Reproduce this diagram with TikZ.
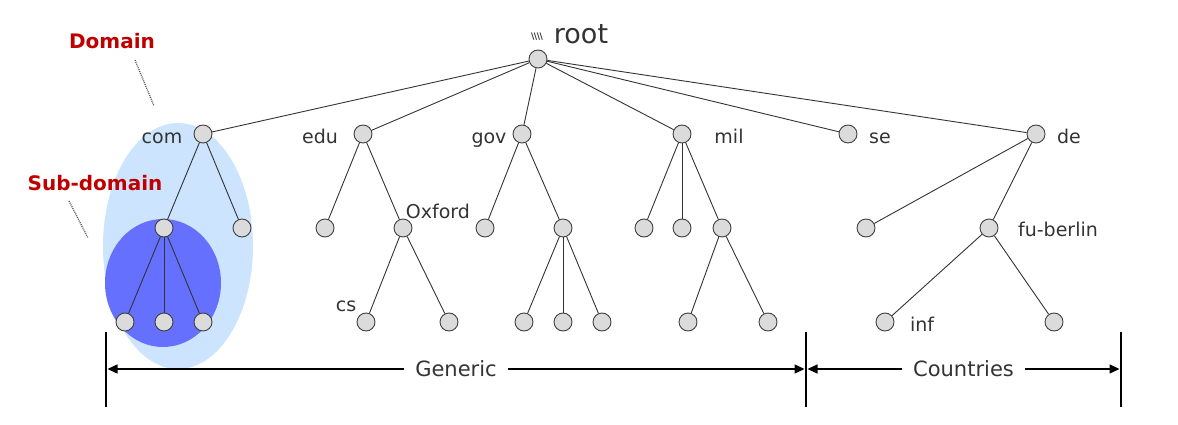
\documentclass[tikz,border=0pt]{standalone}
\usepackage{fontspec}
\setmainfont{DejaVu Sans}
\usetikzlibrary{arrows.meta}
\definecolor{lblue}{HTML}{CCE4FD}
\definecolor{dblue}{HTML}{6670FF}
\definecolor{dred}{HTML}{C00000}
\definecolor{txt}{HTML}{333333}
\begin{document}
\begin{tikzpicture}[x=1pt,y=-1pt,
  dn/.style={circle,draw=black!75,fill=black!14,minimum size=18pt,inner sep=0pt,line width=0.9pt},
  lbl/.style={font=\fontsize{19}{22}\selectfont,text=txt,inner sep=0pt,anchor=base},
  red/.style={font=\fontsize{20}{23}\selectfont\bfseries,text=dred,inner sep=0pt,anchor=base},
  edge/.style={draw=black!80,line width=0.9pt},
  dim/.style={draw=black,line width=1.5pt},
  dimarrow/.style={draw=black,line width=1.3pt,shorten <=1.5pt,shorten >=1.5pt,{Triangle[length=10pt,width=9pt]}-{Triangle[length=10pt,width=9pt]}},
  lead/.style={draw=black!65,dash pattern=on 1pt off 1pt,line width=1.3pt}]
\useasboundingbox (0,0) rectangle (1178,425);
% ellipses
\fill[lblue] (178,246) ellipse [x radius=75, y radius=123];
\fill[dblue] (163,283) ellipse [x radius=58, y radius=64];
% nodes
\node[dn] (root) at (538,59) {};
\node[dn] (com) at (203,134) {};
\node[dn] (edu) at (363,134) {};
\node[dn] (gov) at (522,134) {};
\node[dn] (mil) at (682,134) {};
\node[dn] (se) at (848,134) {};
\node[dn] (de) at (1036,134) {};
\node[dn] (c1) at (164,228) {};
\node[dn] (c2) at (242,228) {};
\node[dn] (c11) at (125,322) {};
\node[dn] (c12) at (164,322) {};
\node[dn] (c13) at (203,322) {};
\node[dn] (e1) at (325,228) {};
\node[dn] (ox) at (403,228) {};
\node[dn] (cs) at (366,322) {};
\node[dn] (ox2) at (449,322) {};
\node[dn] (g1) at (485,228) {};
\node[dn] (g2) at (563,228) {};
\node[dn] (g21) at (524,322) {};
\node[dn] (g22) at (563,322) {};
\node[dn] (g23) at (602,322) {};
\node[dn] (m1) at (644,228) {};
\node[dn] (m2) at (682,228) {};
\node[dn] (m3) at (722,228) {};
\node[dn] (m31) at (688,322) {};
\node[dn] (m32) at (768,322) {};
\node[dn] (d1) at (866,228) {};
\node[dn] (fu) at (989,228) {};
\node[dn] (inf) at (885,322) {};
\node[dn] (fu2) at (1054,322) {};
% edges
\foreach \t in {com,edu,gov,mil,se,de} \draw[edge] (root) -- (\t);
\foreach \a/\b in {com/c1,com/c2,c1/c11,c1/c12,c1/c13,edu/e1,edu/ox,ox/cs,ox/ox2,
  gov/g1,gov/g2,g2/g21,g2/g22,g2/g23,mil/m1,mil/m2,mil/m3,m3/m31,m3/m32,
  de/d1,de/fu,fu/inf,fu/fu2} \draw[edge] (\a) -- (\b);
% labels
\node[font=\fontsize{27}{30}\selectfont,text=txt,inner sep=0pt,anchor=base] (lroot) at (581,44) {root};
\node[font=\fontsize{9}{10}\selectfont\bfseries,text=txt,inner sep=0pt,anchor=base] (lmark) at (537,40) {\textbackslash\kern-0.5pt\textbackslash\kern-0.5pt\textbackslash\kern-0.5pt\textbackslash};
\node[lbl] (lcom) at (162,143) {com};
\node[lbl] (ledu) at (320,143) {edu};
\node[lbl] (lgov) at (489,143) {gov};
\node[lbl] (lmil) at (729,143) {mil};
\node[lbl] (lse) at (880,143) {se};
\node[lbl] (lde) at (1069,143) {de};
\node[lbl] (lox) at (438,218) {Oxford};
\node[lbl] (lfu) at (1058,236) {fu-berlin};
\node[lbl] (lcs) at (346,311) {cs};
\node[lbl] (linf) at (922,331) {inf};
% domain labels
\node[red] (ldom) at (112,49) {Domain};
\node[red] (lsub) at (95,190) {Sub-domain};
\coordinate (dA) at (135,60); \coordinate (dB) at (154,106);
\coordinate (sA) at (69,201); \coordinate (sB) at (88,238);
\draw[lead] (dA) -- (dB);
\draw[lead] (sA) -- (sB);
% dimension lines
\coordinate (v1t) at (106,332); \coordinate (v1b) at (106,407);
\coordinate (v2t) at (806,332); \coordinate (v2b) at (806,407);
\coordinate (v3t) at (1121,332); \coordinate (v3b) at (1121,407);
\draw[dim] (v1t) -- (v1b);
\draw[dim] (v2t) -- (v2b);
\draw[dim] (v3t) -- (v3b);
\coordinate (a1) at (106,369); \coordinate (a2) at (806,369); \coordinate (a3) at (1121,369);
\draw[dimarrow] (a1) -- (a2) node[midway,fill=white,inner xsep=11pt,inner ysep=2pt,font=\fontsize{21}{24}\selectfont,text=txt] (lgen) {Generic};
\draw[dimarrow] (a2) -- (a3) node[midway,fill=white,inner xsep=11pt,inner ysep=2pt,font=\fontsize{21}{24}\selectfont,text=txt] (lcoun) {Countries};
\end{tikzpicture}
\end{document}
